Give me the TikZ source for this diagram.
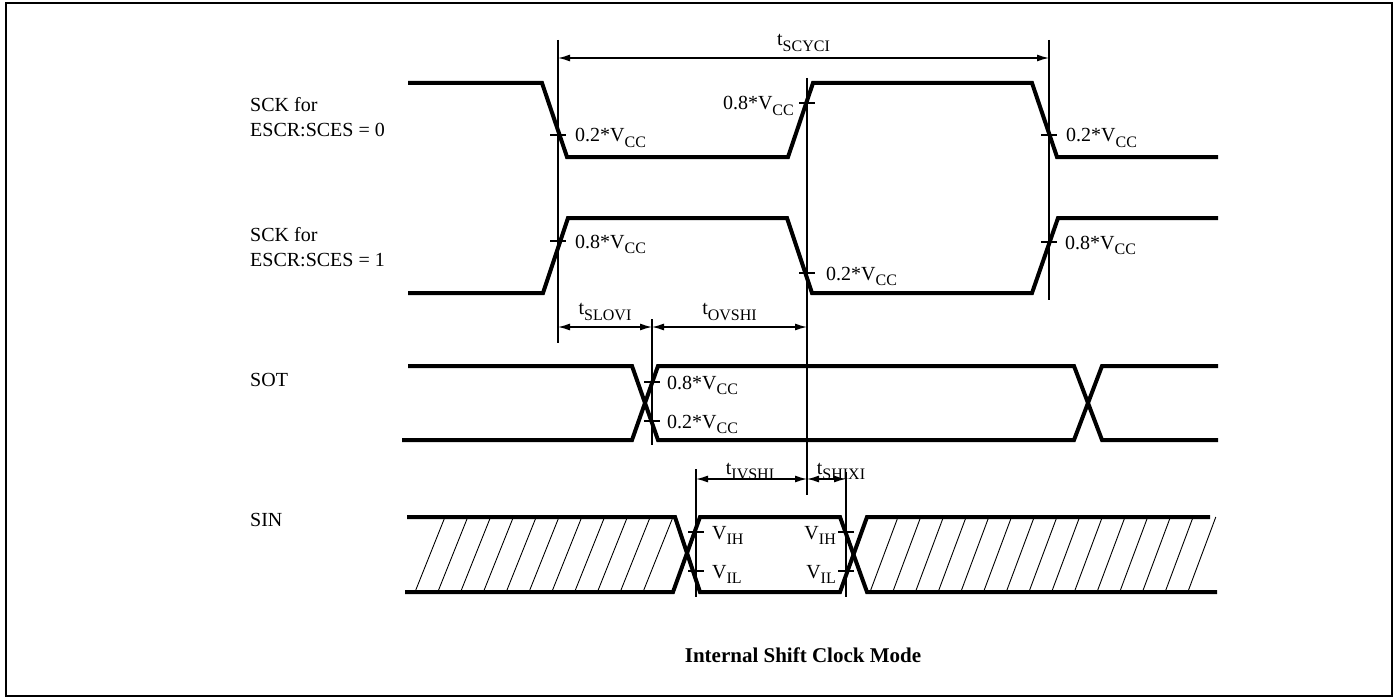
\documentclass[tikz,border=0pt]{standalone}
\usepackage{fontspec}
\setmainfont{Liberation Serif}
\usetikzlibrary{arrows.meta,positioning,calc}

% lowered subscript in text size
\newcommand{\subtxt}[1]{\raisebox{-0.28em}{\fontsize{16}{16}\selectfont #1}}

\begin{document}
\begin{tikzpicture}[x=1pt,y=-1pt,
    wave/.style={line width=4pt},
    guide/.style={line width=1.3pt},
    tickmark/.style={line width=1.3pt},
    hatch/.style={line width=0.9pt},
    dimarrow/.style={line width=1.3pt,{Latex[length=12pt,width=7pt]}-{Latex[length=12pt,width=7pt]}},
    txt/.style={font=\fontsize{20}{25}\selectfont, inner sep=0pt},
    lvl/.style={txt, anchor=base west},
  ]
  \useasboundingbox (0,0) rectangle (1397,698);
  \draw[line width=2pt] (6,3) rectangle (1392,696);

  % signal names
  \node[txt, anchor=west, align=left] (nameSCKa) at (250,117) {SCK for\\ESCR:SCES = 0};
  \node[txt, anchor=west, align=left] (nameSCKb) at (250,247) {SCK for\\ESCR:SCES = 1};
  \node[txt, anchor=west] (nameSOT) at (250,380) {SOT};
  \node[txt, anchor=west] (nameSIN) at (250,520) {SIN};

  % timing marks
  \coordinate (cycL) at (558,58);
  \coordinate (cycR) at (1049,58);
  \coordinate (sloL) at (558,327);
  \coordinate (sloR) at (652,327);
  \coordinate (ovsR) at (807,327);
  \coordinate (ivsL) at (696,479);
  \coordinate (ivsR) at (807,479);
  \coordinate (shiR) at (846,479);

  \draw[guide] (558,40) -- (558,343);
  \draw[guide] (1049,40) -- (1049,300);
  \draw[guide] (807,78) -- (807,495);
  \draw[guide] (652,319) -- (652,445);
  \draw[guide] (696,469) -- (696,597);
  \draw[guide] (846,472) -- (846,597);

  % SCK, SCES = 0
  \draw[wave] (408,83) -- (542,83) -- (567,157) -- (788,157) -- (813,83)
    -- (1032,83) -- (1057,157) -- (1218,157);
  % SCK, SCES = 1
  \draw[wave] (408,293) -- (543,293) -- (568,218) -- (787,218) -- (812,293)
    -- (1032,293) -- (1058,218) -- (1218,218);
  % SOT
  \draw[wave] (408,366) -- (632,366) -- (658,440) -- (1074,440) -- (1102,366) -- (1218,366);
  \draw[wave] (402,440) -- (632,440) -- (658,366) -- (1074,366) -- (1102,440) -- (1218,440);
  % SIN
  \draw[wave] (407,517) -- (675,517) -- (700,592) -- (840,592) -- (867,517) -- (1210,517);
  \draw[wave] (405,592) -- (673,592) -- (700,517) -- (840,517) -- (867,592) -- (1217,592);
  \foreach \i in {0,...,10}
    \draw[hatch] (415+22.8*\i,592) -- (445+22.8*\i,517);
  \foreach \i in {0,...,14}
    \draw[hatch] (870+22.7*\i,592) -- (898+22.7*\i,517);

  % level ticks
  \foreach \x/\y in {558/135, 807/103, 1049/135, 558/241, 807/273, 1049/242,
      652/382, 652/421, 696/532, 696/571, 846/532, 846/571}
    \draw[tickmark] (\x-8,\y) -- (\x+8,\y);

  % level labels
  \node[lvl] (lvlA) at (575,142) {0.2*V\subtxt{CC}};
  \node[txt, anchor=base east] (lvlB) at (794,110) {0.8*V\subtxt{CC}};
  \node[lvl] (lvlC) at (1066,142) {0.2*V\subtxt{CC}};
  \node[lvl] (lvlD) at (575,248) {0.8*V\subtxt{CC}};
  \node[lvl] (lvlE) at (826,280) {0.2*V\subtxt{CC}};
  \node[lvl] (lvlF) at (1065,249) {0.8*V\subtxt{CC}};
  \node[lvl] (lvlG) at (667,389) {0.8*V\subtxt{CC}};
  \node[lvl] (lvlH) at (667,428) {0.2*V\subtxt{CC}};
  \node[lvl] (lvlI) at (712,539) {V\subtxt{IH}};
  \node[lvl] (lvlJ) at (712,578) {V\subtxt{IL}};
  \node[txt, anchor=base east] (lvlK) at (836,539) {V\subtxt{IH}};
  \node[txt, anchor=base east] (lvlL) at (836,578) {V\subtxt{IL}};

  % timing arrows
  \draw[dimarrow] (cycL) -- (cycR) node[txt, midway, above=6pt] (lblCyc) {t\subtxt{SCYCI}};
  \draw[dimarrow] (sloL) -- (sloR) node[txt, midway, above=6pt] (lblSlo) {t\subtxt{SLOVI}};
  \draw[dimarrow] (sloR) -- (ovsR) node[txt, midway, above=6pt] (lblOvs) {t\subtxt{OVSHI}};
  \node[txt, anchor=base] (lblIvs) at (750,474) {t\subtxt{IVSHI}};
  \node[txt, anchor=base] (lblShi) at (841,474) {t\subtxt{SHIXI}};
  \draw[dimarrow] (ivsL) -- (ivsR);
  \draw[dimarrow] (ivsR) -- (shiR);

  \node[txt, font=\fontsize{21}{26}\selectfont\bfseries] (title) at (803,655) {Internal Shift Clock Mode};
\end{tikzpicture}
\end{document}
